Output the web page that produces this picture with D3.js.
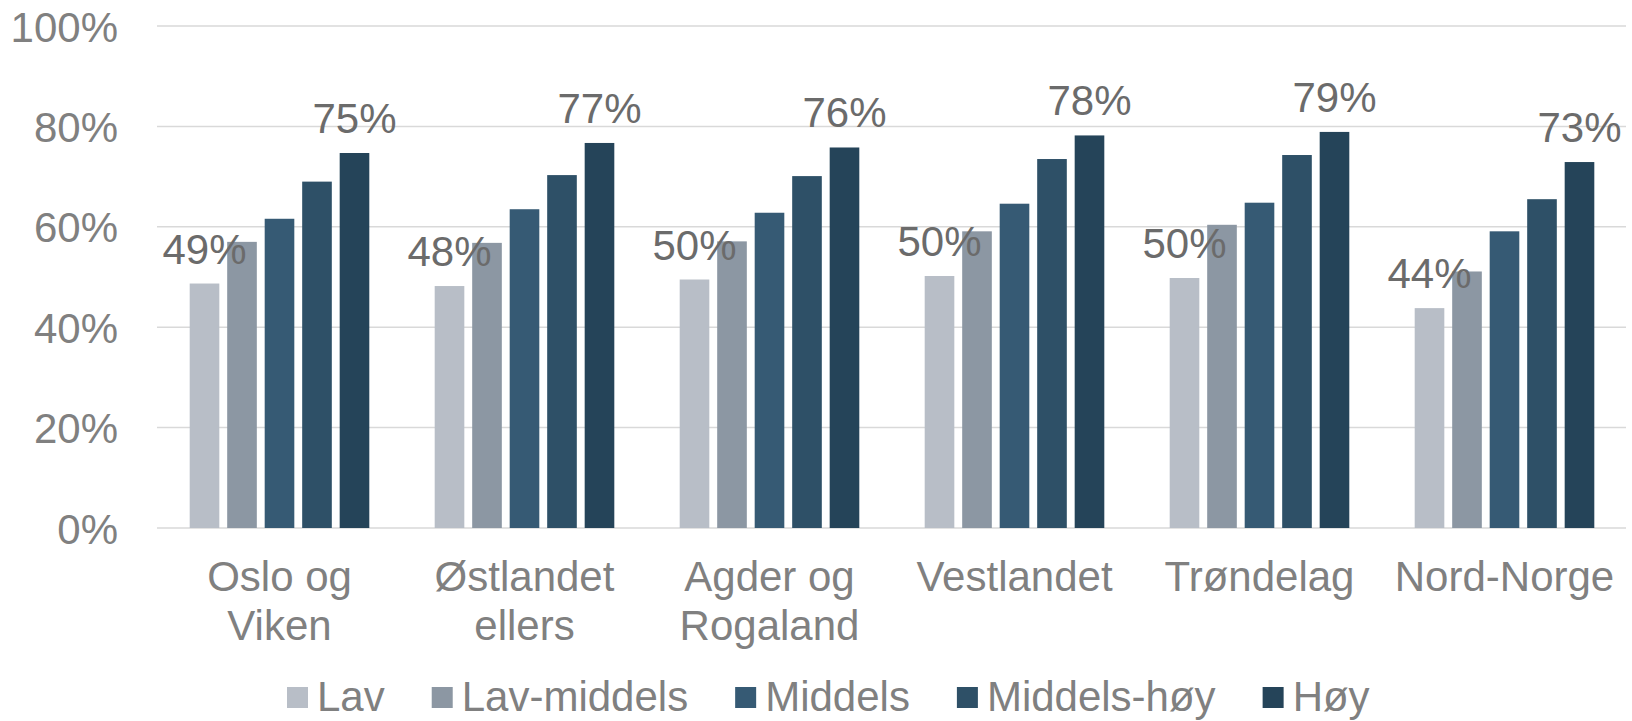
<!DOCTYPE html>
<meta charset="utf-8">
<style>
body { margin: 0; background: #fff; }
svg { display: block; font-family: "Liberation Sans", Arial, sans-serif; }
</style>
<svg width="1632" height="721"></svg>
<script src="https://cdn.jsdelivr.net/npm/d3@7"></script>
<script>
var categories = [["Oslo og", "Viken"], ["Østlandet", "ellers"], ["Agder og", "Rogaland"], ["Vestlandet"], ["Trøndelag"], ["Nord-Norge"]]
var seriesNames = ["Lav", "Lav-middels", "Middels", "Middels-høy", "Høy"]
var seriesColors = ["#b8bec7", "#8c97a3", "#365a74", "#2e5067", "#254459"]
var lav        = [0.487, 0.482, 0.495, 0.502, 0.498, 0.438]
var lavMiddels = [0.570, 0.568, 0.571, 0.591, 0.604, 0.511]
var middels    = [0.616, 0.635, 0.628, 0.646, 0.648, 0.591]
var middelsHoy = [0.690, 0.703, 0.701, 0.735, 0.743, 0.655]
var hoy        = [0.747, 0.767, 0.758, 0.782, 0.789, 0.729]
var yTicks = [0, 0.2, 0.4, 0.6, 0.8, 1]
// only these series carry data labels
var labelled = ["Lav", "Høy"]

var values = [lav, lavMiddels, middels, middelsHoy, hoy]
var catKeys = categories.map(function(c){ return c.join(" ") })

var svg = d3.select("svg")
var fontSize = 42

var x0 = d3.scaleBand().domain(catKeys).range([157, 1627])
var x1 = d3.scaleBand().domain(seriesNames).range([0, x0.bandwidth()])
  .paddingInner(0.21).paddingOuter(0.872)
var y = d3.scaleLinear().domain([0, 1]).range([528, 26])
var fmt = d3.format(".0%")

// gridlines
svg.append("g").selectAll("line")
  .data(yTicks)
  .enter().append("line")
    .attr("x1", 157).attr("x2", 1626)
    .attr("y1", function(d){ return y(d) }).attr("y2", function(d){ return y(d) })
    .attr("stroke", "#d9d9d9").attr("stroke-width", 1.5)

// y axis labels
var yAxis = svg.append("g").attr("transform", "translate(118,0)")
  .call(d3.axisLeft(y).tickValues(yTicks).tickFormat(fmt).tickSize(0).tickPadding(0))
yAxis.select(".domain").remove()
yAxis.selectAll("text")
  .attr("font-size", fontSize).attr("font-family", "Liberation Sans, Arial, sans-serif")
  .attr("fill", "#808080").attr("dy", "0.36em")

// bars
var rows = catKeys.map(function(c, i){
  return seriesNames.map(function(s, j){ return {cat: c, series: s, value: values[j][i], color: seriesColors[j]} })
})

var groups = svg.append("g").selectAll("g")
  .data(rows)
  .enter().append("g")
    .attr("transform", function(d, i){ return "translate(" + x0(catKeys[i]) + ",0)" })

groups.selectAll("rect")
  .data(function(d){ return d })
  .enter().append("rect")
    .attr("x", function(d){ return x1(d.series) })
    .attr("y", function(d){ return y(d.value) })
    .attr("width", x1.bandwidth())
    .attr("height", function(d){ return y(0) - y(d.value) })
    .attr("fill", function(d){ return d.color })

groups.selectAll("text")
  .data(function(d){ return d.filter(function(e){ return labelled.indexOf(e.series) >= 0 }) })
  .enter().append("text")
    .attr("x", function(d){ return x1(d.series) + x1.bandwidth() / 2 })
    .attr("y", function(d){ return y(d.value) - 20 })
    .attr("text-anchor", "middle")
    .attr("font-size", fontSize)
    .attr("fill", "#6b6b6b")
    .text(function(d){ return fmt(d.value) })

// category labels
var xl = svg.append("g").selectAll("text")
  .data(categories)
  .enter().append("text")
    .attr("x", function(d, i){ return x0(catKeys[i]) + x0.bandwidth() / 2 })
    .attr("y", 591)
    .attr("text-anchor", "middle")
    .attr("font-size", fontSize)
    .attr("fill", "#808080")
xl.selectAll("tspan")
  .data(function(d){ return d })
  .enter().append("tspan")
    .attr("x", function(){ return this.parentNode.getAttribute("x") })
    .attr("dy", function(d, i){ return i ? 49 : 0 })
    .text(function(d){ return d })

// legend
var legend = svg.append("g").attr("transform", "translate(287,0)")
var lx = 0
var items = legend.selectAll("g")
  .data(seriesNames)
  .enter().append("g")
items.append("rect")
  .attr("y", 687).attr("width", 21).attr("height", 21)
  .attr("fill", function(d, i){ return seriesColors[i] })
items.append("text")
  .attr("x", 30).attr("y", 711)
  .attr("font-size", fontSize).attr("fill", "#808080")
  .text(function(d){ return d })
items.each(function(){
  d3.select(this).attr("transform", "translate(" + lx + ",0)")
  lx += 30 + this.querySelector("text").getComputedTextLength() + 47
})
</script>
